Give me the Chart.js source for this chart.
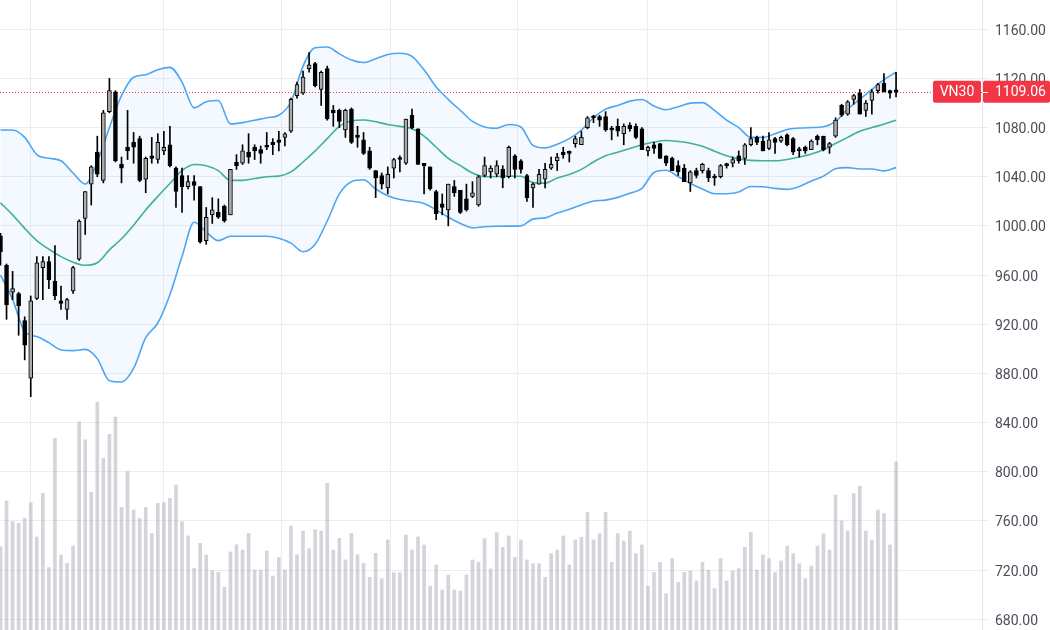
<!DOCTYPE html>
<html>
<head>
<meta charset="utf-8">
<title>VN30</title>
<script src="https://cdn.jsdelivr.net/npm/chart.js@4.4.1/dist/chart.umd.min.js"></script>
<style>
  html, body { margin: 0; padding: 0; background: #fff; }
  canvas { display: block; }
</style>
</head>
<body>
<canvas id="chart" width="1050" height="630"></canvas>
<script>
// Daily OHLC of VN30 (one value per session)
const opens = [
  992, 968, 946, 945, 923, 876, 941, 966, 971, 955,
  939, 932, 947, 973, 1006, 1034, 1060, 1037, 1093, 1109,
  1050, 1064, 1068, 1071, 1038, 1057, 1054, 1061, 1066, 1047,
  1041, 1032, 1036, 1032, 988, 1009, 1011, 1016, 1009, 1052,
  1051, 1060, 1064, 1062, 1065, 1068, 1070, 1072, 1077, 1106,
  1108, 1128, 1132, 1111, 1128, 1094, 1094, 1078, 1095, 1073,
  1070, 1061, 1045, 1041, 1031, 1047, 1055, 1051, 1090, 1079,
  1051, 1048, 1028, 1018, 1013, 1032, 1029, 1022, 1024, 1017,
  1041, 1044, 1042, 1046, 1040, 1057, 1053, 1041, 1031, 1034,
  1038, 1047, 1053, 1060, 1060, 1067, 1066, 1080, 1089, 1089,
  1089, 1079, 1081, 1075, 1082, 1081, 1079, 1061, 1066, 1067,
  1057, 1055, 1049, 1047, 1035, 1045, 1045, 1045, 1040, 1040,
  1050, 1051, 1057, 1055, 1066, 1072, 1069, 1063, 1071, 1069,
  1074, 1071, 1062, 1064, 1062, 1073, 1073, 1064, 1073, 1098,
  1091, 1103, 1108, 1094, 1102, 1110, 1116, 1110, 1110.5
];
const highs = [
  994, 969, 963, 946, 926, 943, 975, 975, 975, 984,
  951, 941, 967, 1005, 1028, 1049, 1073, 1094, 1120, 1110,
  1056, 1094, 1076, 1073, 1056, 1072, 1075, 1077, 1081, 1048,
  1047, 1041, 1041, 1032, 1015, 1023, 1022, 1017, 1046, 1058,
  1066, 1075, 1066, 1065, 1076, 1071, 1077, 1076, 1104, 1117,
  1126, 1141, 1133, 1126, 1130, 1098, 1095, 1095, 1096, 1081,
  1076, 1064, 1045, 1043, 1048, 1055, 1057, 1087, 1095, 1079,
  1051, 1048, 1029, 1026, 1034, 1037, 1029, 1034, 1036, 1041,
  1056, 1049, 1053, 1049, 1065, 1058, 1054, 1042, 1035, 1046,
  1051, 1056, 1059, 1064, 1061, 1073, 1077, 1089, 1090, 1090,
  1093, 1081, 1087, 1083, 1084, 1083, 1080, 1065, 1068, 1067,
  1057, 1056, 1053, 1050, 1045, 1047, 1051, 1047, 1042, 1050,
  1051, 1056, 1061, 1067, 1080, 1073, 1073, 1076, 1072, 1073,
  1075, 1072, 1064, 1065, 1070, 1074, 1073, 1068, 1088, 1099,
  1102, 1107, 1111, 1102, 1111, 1116, 1124, 1110.5, 1125
];
const lows = [
  968, 924, 940, 911, 891, 861, 940, 940, 949, 940,
  932, 924, 945, 972, 993, 1017, 1040, 1035, 1092, 1052,
  1035, 1054, 1051, 1036, 1027, 1051, 1051, 1058, 1048, 1015,
  1011, 1030, 1021, 986, 985, 1002, 1006, 1003, 1009, 1046,
  1050, 1051, 1054, 1051, 1062, 1058, 1061, 1065, 1076, 1104,
  1107, 1125, 1113, 1098, 1086, 1081, 1080, 1072, 1067, 1064,
  1058, 1046, 1023, 1030, 1026, 1039, 1044, 1050, 1079, 1050,
  1026, 1029, 1005, 1009, 1000, 1024, 1010, 1012, 1023, 1016,
  1040, 1039, 1040, 1031, 1039, 1039, 1043, 1020, 1015, 1034,
  1031, 1046, 1045, 1055, 1052, 1064, 1066, 1079, 1084, 1081,
  1077, 1070, 1073, 1066, 1077, 1071, 1062, 1057, 1059, 1055,
  1049, 1045, 1041, 1036, 1028, 1039, 1043, 1036, 1033, 1039,
  1047, 1048, 1051, 1050, 1065, 1066, 1061, 1062, 1059, 1068,
  1065, 1058, 1056, 1059, 1062, 1066, 1061, 1059, 1072, 1089,
  1090, 1099, 1091, 1089, 1091, 1108, 1109, 1104, 1105
];
const closes = [
  979, 936, 949, 935, 903, 939, 970, 971, 956, 943,
  937, 940, 966, 1004, 1028, 1048, 1042, 1092, 1110, 1053,
  1047, 1061, 1064, 1037, 1055, 1055, 1068, 1064, 1049, 1028,
  1032, 1036, 1033, 987, 1007, 1013, 1007, 1004, 1046, 1049,
  1061, 1056, 1061, 1059, 1064, 1066, 1068, 1075, 1103, 1115,
  1121, 1131, 1114, 1125, 1087, 1092, 1085, 1094, 1068, 1072,
  1059, 1047, 1039, 1034, 1042, 1054, 1054, 1087, 1080, 1050,
  1049, 1030, 1010, 1015, 1034, 1027, 1011, 1013, 1027, 1040,
  1049, 1047, 1049, 1039, 1064, 1046, 1046, 1023, 1034, 1042,
  1046, 1050, 1056, 1058, 1059, 1071, 1072, 1088, 1088, 1086,
  1078, 1078, 1077, 1081, 1079, 1072, 1062, 1064, 1063, 1055,
  1051, 1045, 1044, 1036, 1044, 1041, 1050, 1039, 1039, 1049,
  1049, 1054, 1053, 1066, 1071, 1068, 1061, 1070, 1068, 1072,
  1066, 1060, 1061, 1061, 1069, 1070, 1062, 1067, 1086, 1090,
  1101, 1106, 1091, 1100, 1109, 1115, 1109, 1108, 1109.06
];
// Volume per session (millions of shares)
const volumes = [
  55.5, 86, 72.2, 71.1, 74.4, 84.9, 62, 91.1, 41.6, 127.8,
  50, 44.4, 56, 138.7, 126.7, 91.8, 152, 114.4, 130.4, 142,
  81.8, 105.6, 80, 74.4, 81.8, 64.4, 84.4, 84.9, 87.8, 96.7,
  72.2, 62.7, 41.1, 57.8, 50, 39.6, 38.4, 28.4, 52, 56.9,
  53.3, 64.4, 40, 40, 52.7, 36, 48.4, 40, 69.3, 50.2,
  66, 54.2, 66.9, 66, 97.8, 53.3, 61.1, 46.7, 64.4, 50.2,
  44.4, 35.1, 51.1, 34.2, 60, 38.2, 38.2, 63.3, 53.3, 62,
  56.7, 29.3, 43.3, 26.7, 36.7, 26.7, 26, 36.7, 46.7, 45.1,
  60.9, 40.7, 64.9, 55.1, 62.7, 48.4, 60, 46.7, 44.2, 44.2,
  35.1, 50.9, 53.3, 62.7, 43.3, 60, 61.8, 78.4, 60, 64.2,
  78.4, 45.1, 64.2, 59.3, 66, 50.9, 56.7, 29.3, 38.4, 45.1,
  24.2, 47.6, 31.8, 38.4, 39.3, 32.7, 45.1, 40, 27.6, 47.6,
  32.7, 39.3, 40.9, 55.1, 65.1, 40, 50, 47.6, 38.4, 46,
  56, 50.9, 44.2, 34.2, 42.7, 56, 64.2, 53.3, 90, 72.7,
  66, 90.9, 96, 66, 60, 80, 77.6, 56.7, 112
];

// Bollinger bands, read every second session
const bandUpper = [
  1078, 1078, 1072, 1058, 1055, 1053, 1043, 1034, 1052, 1080,
  1106, 1121, 1123, 1127, 1129, 1117, 1096, 1101, 1102, 1083,
  1084, 1086, 1088, 1090, 1101, 1130, 1145, 1145.5, 1140, 1135,
  1133, 1136, 1139.5, 1140.5, 1138, 1127, 1113, 1103, 1094, 1085,
  1080.5, 1079.5, 1082.5, 1080.5, 1065.5, 1063.5, 1066.5, 1071, 1078, 1088,
  1095, 1098, 1101.5, 1102.8, 1097.5, 1094.5, 1097, 1099.9, 1100.3, 1094,
  1086, 1080, 1072, 1072, 1075, 1078.5, 1079.6, 1080, 1080.6, 1085,
  1095, 1103, 1111, 1119, 1125
];
const bandMiddle = [
  1018.8, 1009, 998, 988, 981, 975, 970.5, 968, 970, 980.5,
  989.5, 1000.5, 1013, 1024, 1034.5, 1045, 1050, 1049, 1045, 1037,
  1037, 1038.5, 1040, 1040.5, 1044, 1052, 1061, 1071, 1081, 1085.5,
  1086.2, 1084.7, 1082.5, 1081, 1079, 1073, 1064, 1055, 1049, 1043,
  1040, 1040.2, 1040.6, 1040.4, 1035.2, 1034.8, 1039, 1041.8, 1046, 1052,
  1057, 1060, 1063, 1066, 1068.2, 1069.5, 1068.7, 1067.3, 1064.8, 1060.8,
  1057, 1054.5, 1053.3, 1053, 1053, 1054, 1056, 1058.5, 1062, 1067,
  1072, 1077, 1080, 1082.7, 1086
];
const bandLower = [
  960, 940, 914, 910, 905, 899, 898.5, 899.5, 892, 874,
  873, 884, 909, 921, 944, 975, 1003, 995, 988, 991.6,
  991.6, 991.6, 991.6, 990, 986, 979, 985, 1004, 1026, 1036,
  1037.5, 1030, 1024.5, 1021.5, 1020, 1018.3, 1013, 1007, 1002, 998.5,
  999.3, 999.7, 999.8, 1000, 1005.5, 1006.5, 1010.5, 1013.5, 1017, 1020.3,
  1021, 1023.2, 1026.5, 1030.5, 1043.5, 1045.3, 1040, 1034.5, 1030, 1026.2,
  1026.2, 1027.6, 1032, 1031.8, 1030.5, 1029.7, 1032, 1036.5, 1040.5, 1046.5,
  1047.4, 1046.3, 1046.3, 1044.8, 1047.4
];

// session index of each month start (vertical grid lines)
const monthStarts = [16, 38, 55, 74, 97, 117, 137, 159];
const priceTicks = [680, 720, 760, 800, 840, 880, 920, 960, 1000, 1040, 1080, 1120, 1160];
const symbol = 'VN30';
const lastPrice = closes[closes.length - 1];

const gridColor = '#ecedf1';
const upColor = '#aaaaaa';
const downColor = '#000000';

const bandPoints = arr => arr.map((v, k) => ({ x: k * 2, y: v }));

// ligne de prix + étiquettes à droite
const priceLabel = {
  id: 'priceLabel',
  beforeDatasetsDraw(chart) {
    const { ctx, chartArea, scales } = chart;
    const y = Math.round(scales.y.getPixelForValue(lastPrice)) + 0.5;
    ctx.save();
    ctx.strokeStyle = '#f23645';
    ctx.lineWidth = 1;
    ctx.setLineDash([1, 2]);
    ctx.beginPath();
    ctx.moveTo(chartArea.left, y);
    ctx.lineTo(chartArea.right, y);
    ctx.stroke();
    ctx.restore();
  },
  afterDraw(chart) {
    const { ctx, chartArea, scales } = chart;
    const y = scales.y.getPixelForValue(lastPrice);
    const h = 22;
    ctx.save();
    ctx.fillStyle = '#f23645';
    ctx.beginPath();
    ctx.roundRect(chartArea.right - 49, y - h / 2, 48, h, 2);
    ctx.fill();
    ctx.beginPath();
    ctx.roundRect(chartArea.right + 1, y - h / 2, chart.width - chartArea.right - 1, h, 2);
    ctx.fill();
    ctx.strokeStyle = '#ffffff';
    ctx.lineWidth = 1;
    ctx.beginPath();
    ctx.moveTo(chartArea.right + 1, Math.round(y) + 0.5);
    ctx.lineTo(chartArea.right + 6, Math.round(y) + 0.5);
    ctx.stroke();
    ctx.fillStyle = '#ffffff';
    ctx.font = '14px Roboto';
    ctx.textBaseline = 'middle';
    ctx.textAlign = 'center';
    ctx.fillText(symbol, chartArea.right - 25, y + 1);
    ctx.textAlign = 'left';
    ctx.fillText(lastPrice.toFixed(2), chartArea.right + 13, y + 1);
    ctx.restore();
  }
};

const ctx = document.getElementById('chart').getContext('2d');
new Chart(ctx, {
  type: 'bar',
  data: {
    datasets: [
      {
        label: 'body',
        data: opens.map((o, i) => ({ x: i, y: [o, closes[i]] })),
        backgroundColor: opens.map((o, i) => closes[i] >= o ? upColor : downColor),
        borderColor: '#000000',
        borderWidth: 1,
        borderSkipped: false,
        barThickness: 4,
        minBarLength: 2,
        grouped: false,
        order: 1
      },
      {
        label: 'wick',
        data: lows.map((l, i) => ({ x: i, y: [l, highs[i]] })),
        backgroundColor: '#000000',
        barThickness: 1,
        grouped: false,
        order: 2
      },
      {
        type: 'line',
        label: 'upper',
        data: bandPoints(bandUpper),
        borderColor: '#4ea6f2',
        borderWidth: 1.6,
        pointRadius: 0,
        cubicInterpolationMode: 'monotone',
        fill: '+1',
        backgroundColor: 'rgba(33,150,243,0.055)',
        order: 5
      },
      {
        type: 'line',
        label: 'lower',
        data: bandPoints(bandLower),
        borderColor: '#4ea6f2',
        borderWidth: 1.6,
        pointRadius: 0,
        cubicInterpolationMode: 'monotone',
        fill: false,
        order: 4
      },
      {
        type: 'line',
        label: 'basis',
        data: bandPoints(bandMiddle),
        borderColor: '#3fb09a',
        borderWidth: 1.6,
        pointRadius: 0,
        cubicInterpolationMode: 'monotone',
        fill: false,
        order: 3
      },
      {
        label: 'volume',
        data: volumes.map((v, i) => ({ x: i, y: v })),
        yAxisID: 'yv',
        backgroundColor: 'rgba(165,168,180,0.48)',
        barThickness: 3,
        grouped: false,
        order: 6
      }
    ]
  },
  options: {
    responsive: false,
    animation: false,
    layout: { padding: 0 },
    plugins: {
      legend: { display: false },
      tooltip: { enabled: false }
    },
    scales: {
      x: {
        type: 'linear',
        min: -0.08,
        max: 162.2,
        offset: false,
        afterBuildTicks: ax => { ax.ticks = monthStarts.map(v => ({ value: v })); },
        grid: { color: gridColor, drawTicks: false },
        border: { display: false },
        ticks: { display: false }
      },
      y: {
        position: 'right',
        min: 671.2,
        max: 1183.8,
        afterBuildTicks: ax => { ax.ticks = priceTicks.map(v => ({ value: v })); },
        afterFit: ax => { ax.width = 68; ax.paddingTop = 0; ax.paddingBottom = 0; },
        grid: { color: gridColor, tickLength: 6 },
        border: { display: true, color: '#e3e5ea' },
        ticks: {
          padding: 7,
          labelOffset: 2,
          color: '#4a4e59',
          font: { family: 'Roboto', size: 14 },
          callback: v => v.toFixed(2)
        }
      },
      yv: {
        display: false,
        min: 0,
        max: 420
      }
    }
  },
  plugins: [priceLabel]
});
</script>
</body>
</html>
